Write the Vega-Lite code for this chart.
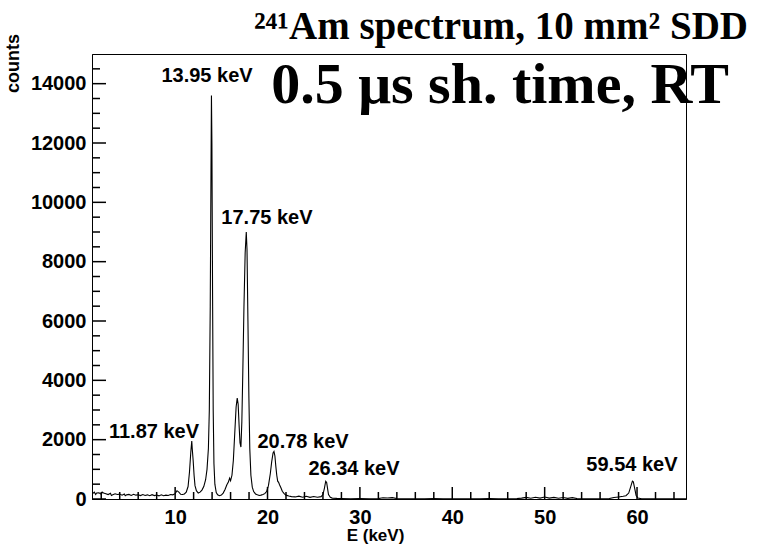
{
  "$schema": "https://vega.github.io/schema/vega-lite/v6.json",
  "width": 594,
  "height": 445,
  "autosize": {"type": "none"},
  "padding": {"left": 92, "top": 54, "right": 78, "bottom": 57},
  "background": "white",
  "config": {
    "view": {"stroke": "#000", "strokeWidth": 1},
    "axis": {
      "domainColor": "#000",
      "tickColor": "#000",
      "labelFont": "Liberation Sans",
      "labelFontWeight": "bold",
      "labelFontSize": 20,
      "labelColor": "#000",
      "titleFont": "Liberation Sans",
      "titleFontWeight": "bold",
      "titleColor": "#000",
      "grid": false,
      "labelOverlap": false
    }
  },
  "datasets": {
    "spec": [
      {"E":1.0,"c":260},{"E":1.1,"c":190},{"E":1.25,"c":230},{"E":1.4,"c":150},{"E":1.5,"c":200},{"E":1.75,"c":210},
      {"E":2.0,"c":160},{"E":2.1,"c":230},{"E":2.25,"c":200},{"E":2.5,"c":180},{"E":2.75,"c":150},{"E":3.0,"c":190},
      {"E":3.1,"c":120},{"E":3.25,"c":140},{"E":3.5,"c":175},{"E":3.75,"c":150},{"E":4.0,"c":165},{"E":4.25,"c":130},
      {"E":4.5,"c":170},{"E":4.6,"c":110},{"E":4.75,"c":140},{"E":5.0,"c":155},{"E":5.25,"c":120},{"E":5.5,"c":160},
      {"E":5.75,"c":130},{"E":6.0,"c":145},{"E":6.25,"c":115},{"E":6.5,"c":150},{"E":6.75,"c":120},
      {"E":7.0,"c":140},{"E":7.25,"c":110},{"E":7.5,"c":145},{"E":7.75,"c":115},{"E":8.0,"c":135},
      {"E":8.25,"c":105},{"E":8.5,"c":140},{"E":8.75,"c":110},{"E":9.0,"c":130},{"E":9.25,"c":120},
      {"E":9.5,"c":150},{"E":9.75,"c":140},{"E":10.0,"c":180},{"E":10.2,"c":280},{"E":10.4,"c":230},
      {"E":10.6,"c":160},{"E":10.8,"c":150},{"E":11.0,"c":170},{"E":11.2,"c":230},{"E":11.4,"c":420},
      {"E":11.55,"c":900},{"E":11.7,"c":1600},{"E":11.8,"c":1950},{"E":11.85,"c":1700},{"E":11.95,"c":1300},
      {"E":12.05,"c":800},{"E":12.15,"c":450},{"E":12.3,"c":280},{"E":12.5,"c":200},{"E":12.7,"c":230},
      {"E":12.9,"c":300},{"E":13.1,"c":420},{"E":13.3,"c":650},{"E":13.45,"c":1000},{"E":13.6,"c":1700},
      {"E":13.7,"c":3000},{"E":13.8,"c":6500},{"E":13.88,"c":11000},{"E":13.93,"c":13600},{"E":13.98,"c":12000},
      {"E":14.05,"c":7000},{"E":14.12,"c":3000},{"E":14.2,"c":1200},{"E":14.3,"c":500},{"E":14.45,"c":220},
      {"E":14.6,"c":140},{"E":14.8,"c":110},{"E":15.0,"c":130},{"E":15.2,"c":200},{"E":15.4,"c":320},
      {"E":15.6,"c":480},{"E":15.75,"c":560},{"E":15.9,"c":700},{"E":16.0,"c":620},{"E":16.15,"c":800},
      {"E":16.3,"c":1300},{"E":16.45,"c":2200},{"E":16.6,"c":3100},{"E":16.72,"c":3400},{"E":16.82,"c":3200},
      {"E":16.92,"c":2500},{"E":17.02,"c":1900},{"E":17.12,"c":1750},{"E":17.22,"c":2600},{"E":17.32,"c":4200},
      {"E":17.45,"c":6500},{"E":17.58,"c":8300},{"E":17.7,"c":9000},{"E":17.78,"c":8400},{"E":17.88,"c":6000},
      {"E":17.98,"c":3500},{"E":18.08,"c":1700},{"E":18.2,"c":800},{"E":18.35,"c":400},{"E":18.5,"c":250},
      {"E":18.7,"c":170},{"E":18.9,"c":140},{"E":19.1,"c":120},{"E":19.3,"c":130},{"E":19.5,"c":150},
      {"E":19.7,"c":180},{"E":19.9,"c":250},{"E":20.1,"c":450},{"E":20.3,"c":850},{"E":20.45,"c":1250},
      {"E":20.6,"c":1550},{"E":20.7,"c":1600},{"E":20.8,"c":1450},{"E":20.9,"c":1100},{"E":21.0,"c":800},
      {"E":21.1,"c":600},{"E":21.2,"c":560},{"E":21.3,"c":480},{"E":21.45,"c":380},{"E":21.6,"c":260},
      {"E":21.8,"c":180},{"E":22.0,"c":130},{"E":22.3,"c":100},{"E":22.6,"c":80},{"E":23.0,"c":70},
      {"E":23.4,"c":95},{"E":23.8,"c":60},{"E":24.2,"c":90},{"E":24.6,"c":55},{"E":25.0,"c":85},
      {"E":25.4,"c":60},{"E":25.8,"c":80},{"E":26.0,"c":150},{"E":26.15,"c":350},{"E":26.3,"c":600},
      {"E":26.4,"c":560},{"E":26.5,"c":350},{"E":26.6,"c":150},{"E":26.8,"c":60},{"E":27.0,"c":30},
      {"E":27.5,"c":20},{"E":28,"c":15},{"E":29,"c":10},{"E":30,"c":12},{"E":31,"c":8},
      {"E":32,"c":15},{"E":32.5,"c":40},{"E":33,"c":35},{"E":33.5,"c":45},{"E":34,"c":15},
      {"E":35,"c":8},{"E":36,"c":10},{"E":37,"c":8},{"E":38,"c":12},{"E":39,"c":8},
      {"E":40,"c":10},{"E":41,"c":8},{"E":42,"c":10},{"E":43,"c":8},{"E":44,"c":12},
      {"E":45,"c":8},{"E":46,"c":10},{"E":47,"c":12},{"E":47.5,"c":30},{"E":48,"c":55},
      {"E":48.5,"c":25},{"E":49,"c":60},{"E":49.5,"c":30},{"E":50,"c":65},{"E":50.5,"c":30},
      {"E":51,"c":55},{"E":51.5,"c":25},{"E":52,"c":50},{"E":52.5,"c":20},{"E":53,"c":45},
      {"E":53.5,"c":15},{"E":54,"c":10},{"E":55,"c":8},{"E":56,"c":10},{"E":57,"c":15},
      {"E":57.5,"c":50},{"E":58,"c":70},{"E":58.5,"c":90},{"E":58.8,"c":110},{"E":59.1,"c":200},
      {"E":59.3,"c":400},{"E":59.5,"c":600},{"E":59.6,"c":580},{"E":59.75,"c":350},{"E":59.9,"c":120},
      {"E":60.1,"c":30},{"E":60.5,"c":10},{"E":61,"c":8},{"E":62,"c":10},{"E":63,"c":8},
      {"E":64,"c":10},{"E":65,"c":8},{"E":65.3,"c":8}
    ],
    "labels": [
      {"E":13.45,"c":14260,"t":"13.95 keV"},
      {"E":19.94,"c":9473,"t":"17.75 keV"},
      {"E":7.71,"c":2259,"t":"11.87 keV"},
      {"E":23.84,"c":1921,"t":"20.78 keV"},
      {"E":29.36,"c":1011,"t":"26.34 keV"},
      {"E":59.45,"c":1146,"t":"59.54 keV"}
    ],
    "big": [
      {"E":45.17,"c":13922,"t":"0.5 μs sh. time, RT","s":"sub"},
      {"E":45.27,"c":15911,"t":"²⁴¹Am spectrum, 10 mm² SDD","s":"title"}
    ],
    "xmaj": [{"E":10},{"E":20},{"E":30},{"E":40},{"E":50},{"E":60}],
    "xmin": [
      {"E":2},{"E":4},{"E":6},{"E":8},{"E":12},{"E":14},{"E":16},{"E":18},
      {"E":22},{"E":24},{"E":26},{"E":28},{"E":32},{"E":34},{"E":36},{"E":38},
      {"E":42},{"E":44},{"E":46},{"E":48},{"E":52},{"E":54},{"E":56},{"E":58},
      {"E":62},{"E":64}
    ],
    "ymaj": [{"c":0},{"c":2000},{"c":4000},{"c":6000},{"c":8000},{"c":10000},{"c":12000},{"c":14000}],
    "ymin": [
      {"c":500},{"c":1000},{"c":1500},{"c":2500},{"c":3000},{"c":3500},
      {"c":4500},{"c":5000},{"c":5500},{"c":6500},{"c":7000},{"c":7500},
      {"c":8500},{"c":9000},{"c":9500},{"c":10500},{"c":11000},{"c":11500},
      {"c":12500},{"c":13000},{"c":13500},{"c":14500}
    ]
  },
  "resolve": {"axis": {"x": "independent", "y": "independent"}},
  "layer": [
    {
      "data": {"name": "spec"},
      "mark": {"type": "line", "color": "#000", "strokeWidth": 1.1, "clip": true},
      "encoding": {
        "x": {
          "field": "E", "type": "quantitative",
          "scale": {"domain": [1, 65.3], "nice": false, "zero": false},
          "axis": {
            "orient": "bottom",
            "title": "E (keV)",
            "titleFontSize": 17,
            "titleX": 283,
            "titleY": 36,
            "titleBaseline": "middle",
            "values": [10,20,30,40,50,60],
            "format": "d",
            "ticks": false,
            "labelPadding": 8
          }
        },
        "y": {
          "field": "c", "type": "quantitative",
          "scale": {"domain": [0, 15000], "nice": false},
          "axis": {
            "orient": "left",
            "title": "counts",
            "titleFontSize": 18,
            "titleAngle": -90,
            "titleX": -79,
            "titleY": 9,
            "titleAlign": "center",
            "titleBaseline": "middle",
            "values": [0,2000,4000,6000,8000,10000,12000,14000],
            "format": "d",
            "ticks": false,
            "labelPadding": 6
          }
        }
      }
    },
    {
      "data": {"name": "xmaj"},
      "mark": {"type": "rule", "color": "#000", "strokeWidth": 1.5},
      "encoding": {
        "x": {"field": "E", "type": "quantitative", "axis": null},
        "y": {"datum": 0, "type": "quantitative", "axis": null},
        "y2": {"datum": 404}
      }
    },
    {
      "data": {"name": "xmin"},
      "mark": {"type": "rule", "color": "#000", "strokeWidth": 1.5},
      "encoding": {
        "x": {"field": "E", "type": "quantitative", "axis": null},
        "y": {"datum": 0, "type": "quantitative", "axis": null},
        "y2": {"datum": 236}
      }
    },
    {
      "data": {"name": "ymaj"},
      "mark": {"type": "rule", "color": "#000", "strokeWidth": 1.5},
      "encoding": {
        "y": {"field": "c", "type": "quantitative", "axis": null},
        "x": {"datum": 1, "type": "quantitative", "axis": null},
        "x2": {"datum": 2.5155}
      }
    },
    {
      "data": {"name": "ymin"},
      "mark": {"type": "rule", "color": "#000", "strokeWidth": 1.5},
      "encoding": {
        "y": {"field": "c", "type": "quantitative", "axis": null},
        "x": {"datum": 1, "type": "quantitative", "axis": null},
        "x2": {"datum": 1.866}
      }
    },
    {
      "data": {"name": "labels"},
      "mark": {"type": "text", "font": "Liberation Sans", "fontWeight": "bold", "fontSize": 20, "align": "center", "baseline": "middle", "color": "#000"},
      "encoding": {
        "x": {"field": "E", "type": "quantitative", "axis": null},
        "y": {"field": "c", "type": "quantitative", "axis": null},
        "text": {"field": "t"}
      }
    },
    {
      "data": {"name": "big"},
      "mark": {"type": "text", "font": "Liberation Serif", "fontWeight": "bold", "align": "center", "baseline": "middle", "color": "#000"},
      "encoding": {
        "x": {"field": "E", "type": "quantitative", "axis": null},
        "y": {"field": "c", "type": "quantitative", "axis": null},
        "size": {"field": "s", "type": "nominal", "scale": {"domain": ["sub", "title"], "range": [58, 39]}, "legend": null},
        "text": {"field": "t"}
      }
    }
  ]
}
